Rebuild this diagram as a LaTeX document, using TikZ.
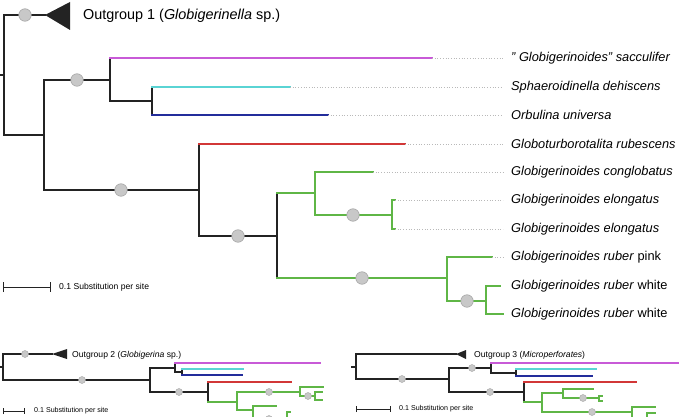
\documentclass[tikz,border=0pt]{standalone}
\usepackage{fontspec}
\setmainfont{Liberation Sans}
\usetikzlibrary{arrows.meta,calc}
\definecolor{Ink}{RGB}{35,35,35}
\definecolor{Sacc}{RGB}{200,90,215}
\definecolor{Sphae}{RGB}{90,212,212}
\definecolor{Orbu}{RGB}{35,45,155}
\definecolor{Rubes}{RGB}{210,55,55}
\definecolor{Ruber}{RGB}{95,182,70}
\definecolor{Supp}{RGB}{200,200,200}
\definecolor{SuppLine}{RGB}{165,165,165}
\definecolor{Lead}{RGB}{185,185,185}
\tikzset{
  tbr/.style={draw=Ink,line width=1.4pt,line cap=rect},
  tmag/.style={tbr,draw=Sacc},
  tcya/.style={tbr,draw=Sphae},
  tblu/.style={tbr,draw=Orbu},
  tred/.style={tbr,draw=Rubes},
  tgrn/.style={tbr,draw=Ruber},
  sbr/.style={tbr,line width=1.1pt},
  smag/.style={sbr,draw=Sacc},
  scya/.style={sbr,draw=Sphae},
  sblu/.style={sbr,draw=Orbu},
  sred/.style={sbr,draw=Rubes},
  sgrn/.style={sbr,draw=Ruber},
  tsupp/.style={circle,fill=Supp,draw=SuppLine,line width=0.6pt,
                minimum size=12.5pt,inner sep=0pt},
  ssupp/.style={tsupp,minimum size=7pt,line width=0.4pt},
  tlead/.style={draw=Lead,line width=0.7pt,dotted},
  tleaf/.style={anchor=west,inner xsep=8pt,inner ysep=1pt,
                font=\fontsize{12.8pt}{15pt}\selectfont\itshape},
  togl/.style={anchor=west,inner sep=3pt,font=\fontsize{14.4pt}{17pt}\selectfont},
  sogl/.style={togl,font=\fontsize{8.6pt}{10pt}\selectfont},
  tscl/.style={anchor=west,inner sep=3pt,font=\fontsize{8.6pt}{10pt}\selectfont},
  sscl/.style={tscl,font=\fontsize{7.1pt}{8pt}\selectfont},
}

\begin{document}
\begin{tikzpicture}[x=1pt,y=-1pt]
    \useasboundingbox (0,0) rectangle (687,417);
    \clip (0,0) rectangle (687,417);

    % main tree
    \coordinate (r0) at (0,75);
    \coordinate (r) at (4,75);
    \coordinate (og) at (45,15);
    \coordinate (n1) at (44,135);
    \coordinate (n2) at (110,80);
    \coordinate (n3) at (199,190);
    \coordinate (n4) at (152,101);
    \coordinate (n5) at (277,236);
    \coordinate (n6) at (315,193);
    \coordinate (n7) at (447,278);
    \coordinate (n8) at (392,215);
    \coordinate (n9) at (486,301);
    \coordinate (sac) at (432,58);
    \coordinate (sph) at (290,87);
    \coordinate (orb) at (328,115);
    \coordinate (rub) at (405,144);
    \coordinate (con) at (373,172);
    \coordinate (elo1) at (395,200);
    \coordinate (elo2) at (395,229);
    \coordinate (pnk) at (492,257);
    \coordinate (wh1) at (500,286);
    \coordinate (wh2) at (503,314);

    \draw[tbr] (r0) -- (r);
    \draw[tbr] (og) -| (r) |- (n1);
    \draw[tbr] (n2) -| (n1) |- (n3);
    \draw[tbr] (n2 |- sac) -- (n2) |- (n4);
    \draw[tmag] (n2 |- sac) -- (sac);
    \draw[tbr] (n4 |- sph) -- (n4 |- orb);
    \draw[tcya] (n4 |- sph) -- (sph);
    \draw[tblu] (n4 |- orb) -- (orb);
    \draw[tbr] (n3 |- rub) -- (n3) |- (n5);
    \draw[tred] (n3 |- rub) -- (rub);
    \draw[tbr] (n5 |- n6) -- (n5 |- n7);
    \draw[tgrn] (n5 |- n6) -- (n6);
    \draw[tgrn] (n5 |- n7) -- (n7);
    \draw[tgrn] (con) -| (n6) |- (n8);
    \draw[tgrn] (elo1) -| (n8) |- (elo2);
    \draw[tgrn] (pnk) -| (n7) |- (n9);
    \draw[tgrn] (wh1) -| (n9) |- (wh2);

    \fill[Ink] (og) -- (70,2) -- (70,30) -- cycle;
    \node[togl] (og1) at (80,16) {Outgroup 1 (\textit{Globigerinella} sp.)};

    \foreach \p/\n in {(25,15)/s1,(77,80)/s2,(121,190)/s3,(238,236)/s4,
                       (353,215)/s5,(362,278)/s6,(467,301)/s7}
      \node[tsupp] (\n) at \p {};

    \node[tleaf] (lsac) at (503,58) {" Globigerinoides" sacculifer};
    \node[tleaf] (lsph) at (503,87) {Sphaeroidinella dehiscens};
    \node[tleaf] (lorb) at (503,115) {Orbulina universa};
    \node[tleaf] (lrub) at (503,144) {Globoturborotalita rubescens};
    \node[tleaf] (lcon) at (503,172) {Globigerinoides conglobatus};
    \node[tleaf] (lelo1) at (503,200) {Globigerinoides elongatus};
    \node[tleaf] (lelo2) at (503,229) {Globigerinoides elongatus};
    \node[tleaf] (lpnk) at (503,257) {Globigerinoides ruber \textup{pink}};
    \node[tleaf] (lwh1) at (503,286) {Globigerinoides ruber \textup{white}};
    \node[tleaf] (lwh2) at (503,314) {Globigerinoides ruber \textup{white}};
    \foreach \t in {sac,sph,orb,rub,con,elo1,elo2,pnk}
      \draw[tlead] (\t) -- (l\t.west);

    \coordinate (sb0) at (3,287);
    \coordinate (sb1) at (51,287);
    \draw[Ink,line width=0.9pt,{Bar[width=10pt]}-{Bar[width=10pt]}] (sb0) -- (sb1);
    \node[tscl] (sbl) at (56,287) {0.1 Substitution per site};

    % outgroup 2
    \coordinate (p0) at (0,367);
    \coordinate (p) at (3,367);
    \coordinate (pog) at (52,354);
    \coordinate (a1) at (150,380);
    \coordinate (a2) at (175,368);
    \coordinate (a3) at (182,372);
    \coordinate (a4) at (208,392);
    \coordinate (a5) at (237,402);
    \coordinate (a6) at (300,392);
    \coordinate (a7) at (315,396);
    \coordinate (a8) at (253,410);
    \coordinate (a9) at (287,419);
    \coordinate (pmag) at (320,363);
    \coordinate (pcya) at (243,369);
    \coordinate (pblu) at (242,375);
    \coordinate (pred) at (291,382);
    \coordinate (pg1) at (323,387);
    \coordinate (pg2) at (322,392);
    \coordinate (pg3) at (322,400);
    \coordinate (pg4) at (276,406);
    \coordinate (pg5) at (290,412);
    \coordinate (pg6) at (290,426);

    \draw[sbr] (p0) -- (p);
    \draw[sbr] (pog) -| (p) |- (a1);
    \draw[sbr] (a2) -| (a1) |- (a4);
    \draw[sbr] (a2 |- pmag) -- (a2) |- (a3);
    \draw[smag] (a2 |- pmag) -- (pmag);
    \draw[sbr] (a3 |- pcya) -- (a3 |- pblu);
    \draw[scya] (a3 |- pcya) -- (pcya);
    \draw[sblu] (a3 |- pblu) -- (pblu);
    \draw[sbr] (a4 |- pred) -- (a4 |- a5);
    \draw[sred] (a4 |- pred) -- (pred);
    \draw[sgrn] (a4 |- a5) -- (a5);
    \draw[sgrn] (a6) -| (a5) |- (a8);
    \draw[sgrn] (pg1) -| (a6) |- (a7);
    \draw[sgrn] (pg2) -| (a7) |- (pg3);
    \draw[sgrn] (pg4) -| (a8) |- (a9);
    \draw[sgrn] (pg5) -| (a9) |- (pg6);

    \fill[Ink] (pog) -- (67,349) -- (67,359) -- cycle;
    \node[sogl] (og2) at (69,355) {Outgroup 2 (\textit{Globigerina} sp.)};
    \foreach \p/\n in {(25,354)/u1,(82,380)/u2,(179,392)/u3,(269,392)/u4,
                       (308,396)/u5,(269,419)/u6}
      \node[ssupp] (\n) at \p {};

    \coordinate (pb0) at (3,411);
    \coordinate (pb1) at (25,411);
    \draw[Ink,line width=0.8pt,{Bar[width=6pt]}-{Bar[width=6pt]}] (pb0) -- (pb1);
    \node[sscl] (pbl) at (31,411) {0.1 Substitution per site};

    % outgroup 3
    \coordinate (q0) at (352,367);
    \coordinate (q) at (356,367);
    \coordinate (qog) at (456,354);
    \coordinate (b1) at (449,379);
    \coordinate (b2) at (491,368);
    \coordinate (b3) at (516,373);
    \coordinate (b4) at (524,392);
    \coordinate (b5) at (542,402);
    \coordinate (b6) at (563,393);
    \coordinate (b7) at (599,398);
    \coordinate (b8) at (632,412);
    \coordinate (b9) at (647,420);
    \coordinate (qmag) at (678,363);
    \coordinate (qcya) at (596,369);
    \coordinate (qblu) at (592,376);
    \coordinate (qred) at (636,382);
    \coordinate (qg1) at (593,389);
    \coordinate (qg2) at (602,396);
    \coordinate (qg3) at (602,401);
    \coordinate (qg4) at (655,407);
    \coordinate (qg5) at (655,413);
    \coordinate (qg6) at (655,427);

    \draw[sbr] (q0) -- (q);
    \draw[sbr] (qog) -| (q) |- (b1);
    \draw[sbr] (b2) -| (b1) |- (b4);
    \draw[sbr] (b2 |- qmag) -- (b2) |- (b3);
    \draw[smag] (b2 |- qmag) -- (qmag);
    \draw[sbr] (b3 |- qcya) -- (b3 |- qblu);
    \draw[scya] (b3 |- qcya) -- (qcya);
    \draw[sblu] (b3 |- qblu) -- (qblu);
    \draw[sbr] (b4 |- qred) -- (b4 |- b5);
    \draw[sred] (b4 |- qred) -- (qred);
    \draw[sgrn] (b4 |- b5) -- (b5);
    \draw[sgrn] (b6) -| (b5) |- (b8);
    \draw[sgrn] (qg1) -| (b6) |- (b7);
    \draw[sgrn] (qg2) -| (b7) |- (qg3);
    \draw[sgrn] (qg4) -| (b8) |- (b9);
    \draw[sgrn] (qg5) -| (b9) |- (qg6);

    \fill[Ink] (qog) -- (466,350) -- (466,359) -- cycle;
    \node[sogl] (og3) at (471,355) {Outgroup 3 (\textit{Microperforates})};
    \foreach \p/\n in {(402,379)/v1,(472,368)/v2,(490,392)/v3,(583,398)/v4,
                       (592,412)/v5}
      \node[ssupp] (\n) at \p {};

    \coordinate (qb0) at (356,409);
    \coordinate (qb1) at (391,409);
    \draw[Ink,line width=0.8pt,{Bar[width=6pt]}-{Bar[width=6pt]}] (qb0) -- (qb1);
    \node[sscl] (qbl) at (396,409) {0.1 Substitution per site};
\end{tikzpicture}
\end{document}
